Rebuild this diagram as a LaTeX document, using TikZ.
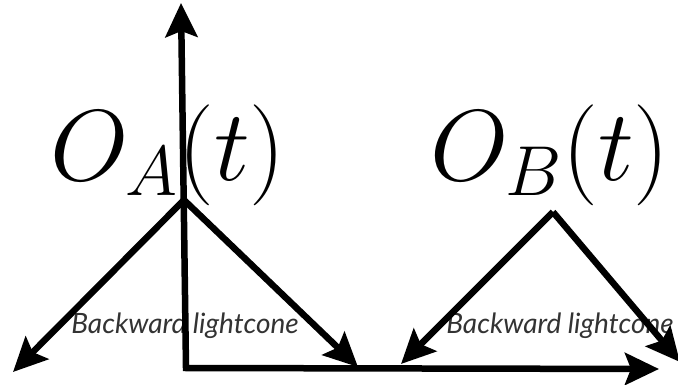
\RequirePackage{fix-cm}
\documentclass[tikz,border=0pt]{standalone}
\usepackage{fontspec}
\usepackage{tikz}
\usetikzlibrary{arrows.meta}
\newfontfamily\conefont{Lato}

\begin{document}
\begin{tikzpicture}[x=1pt,y=-1pt,line cap=butt,line join=miter,
  bigtip/.tip={Stealth[length=34pt,width=32pt,inset=6pt]},
  ray/.style={line width=6.5pt,-bigtip},
  opname/.style={inner sep=0pt,font=\fontsize{101}{105}\selectfont},
  conename/.style={inner sep=0pt,anchor=base,text=black!80,font=\conefont\itshape\fontsize{28}{30}\selectfont}]
  \useasboundingbox (0,0) rectangle (678,385);
  % axes corner and ends
  \coordinate (origin) at (186,368);
  \coordinate (tTop) at (181,3);
  \coordinate (xEnd) at (659,369);
  % apexes and cone ends
  \coordinate (apexA) at (184,200);
  \coordinate (leftA) at (13,372);
  \coordinate (rightA) at (358,367);
  \coordinate (apexB) at (553,212);
  \coordinate (leftB) at (401,364);
  \coordinate (rightB) at (680,362);
  % labels
  \node[opname] (opA) at (168,155) {$O_A(t)$};
  \node[opname] (opB) at (550,155) {$O_B(t)$};
  \node[conename] (coneA) at (185,333) {Backward lightcone};
  \node[conename] (coneB) at (560,333) {Backward lightcone};
  % axes
  \draw[line width=6.5pt,bigtip-bigtip] (tTop) -- (origin) -- (xEnd);
  % backward lightcones
  \draw[ray] (apexA) -- (leftA);
  \draw[ray] (apexA) -- (rightA);
  \draw[ray] (apexB) -- (leftB);
  \draw[ray] (apexB) -- (rightB);
\end{tikzpicture}
\end{document}
